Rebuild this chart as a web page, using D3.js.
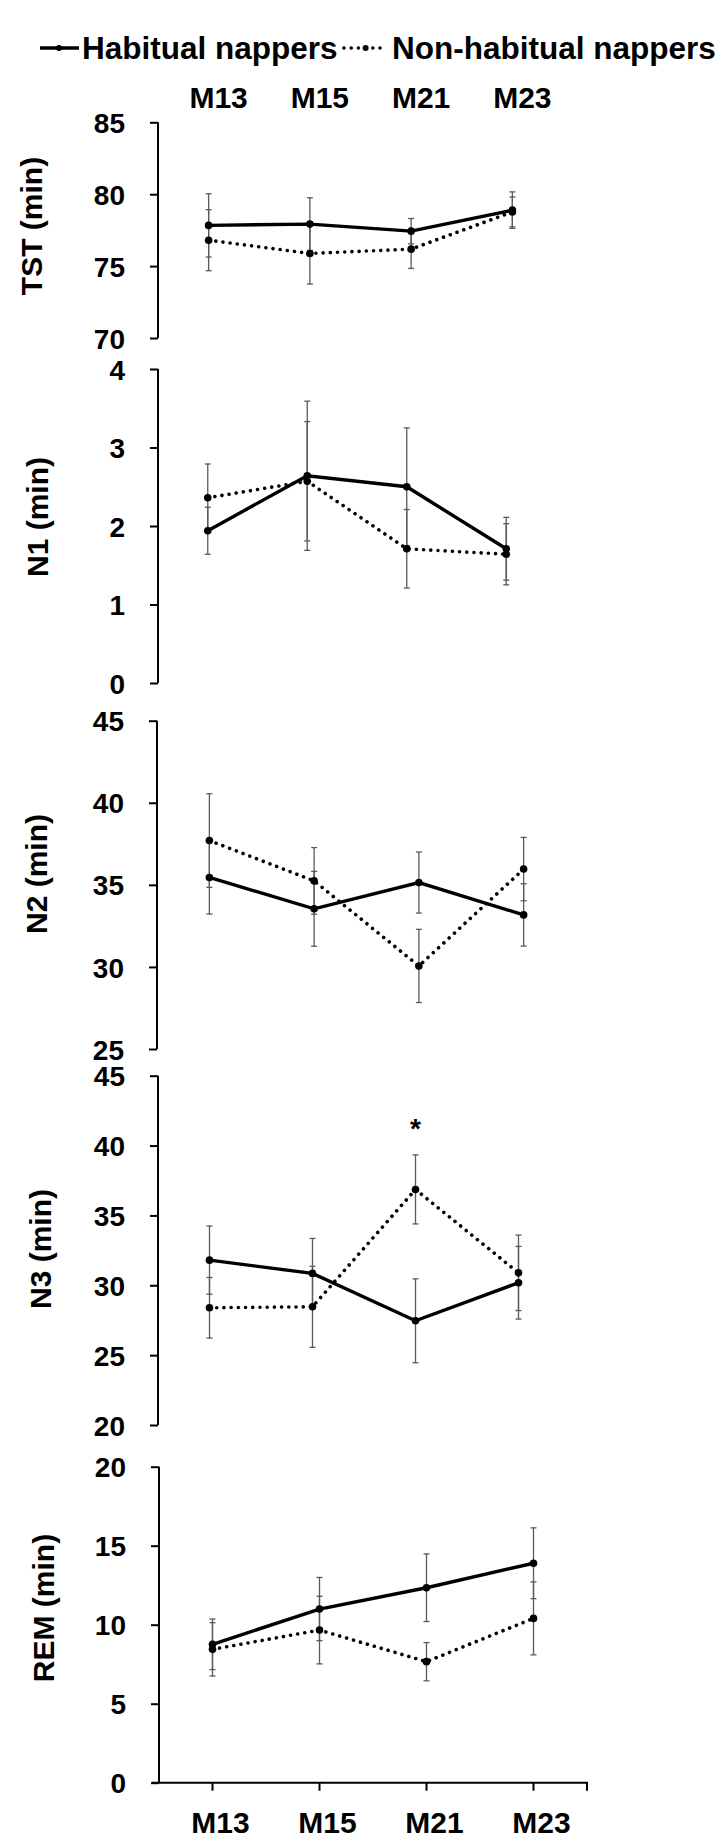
<!DOCTYPE html>
<html>
<head>
<meta charset="utf-8">
<script src="https://cdn.jsdelivr.net/npm/d3@7"></script>
<style>
  body { margin: 0; background: #fff; }
  text { font-family: "Liberation Sans", Arial, sans-serif; font-weight: bold; fill: #000; }
</style>
</head>
<body>
<svg id="chart" width="720" height="1838"></svg>
<script>
// the data (means and error bars in minutes)
const categories = ["M13", "M15", "M21", "M23"];
const seriesNames = ["Habitual nappers", "Non-habitual nappers"];

const tstHab = [77.83, 77.92, 77.43, 78.89];
const tstHabErr = [2.2, 1.83, 0.88, 1.27];
const tstNon = [76.8, 75.88, 76.18, 78.77];
const tstNonErr = [2.12, 2.13, 1.34, 1.04];

const n1Hab = [1.94, 2.64, 2.50, 1.71];
const n1HabErr = [0.30, 0.95, 0.75, 0.40];
const n1Non = [2.36, 2.57, 1.71, 1.64];
const n1NonErr = [0.43, 0.76, 0.50, 0.39];

const n2Hab = [35.45, 33.54, 35.14, 33.17];
const n2HabErr = [2.23, 2.28, 1.86, 1.90];
const n2Non = [37.70, 35.24, 30.06, 35.96];
const n2NonErr = [2.85, 2.03, 2.23, 1.93];

const n3Hab = [31.80, 30.85, 27.46, 30.18];
const n3HabErr = [2.44, 2.5, 3.0, 2.6];
const n3Non = [28.39, 28.46, 36.86, 30.89];
const n3NonErr = [2.17, 2.9, 2.47, 2.7];

const remHab = [8.76, 10.99, 12.34, 13.89];
const remHabErr = [1.6, 2.0, 2.14, 2.24];
const remNon = [8.44, 9.66, 7.66, 10.40];
const remNonErr = [1.69, 2.14, 1.21, 2.31];

// tick labels for each panel
const tstTicks = [70, 75, 80, 85];
const n1Ticks = [0, 1, 2, 3, 4];
const n2Ticks = [25, 30, 35, 40, 45];
const n3Ticks = [20, 25, 30, 35, 40, 45];
const remTicks = [0, 5, 10, 15, 20];

// significance mark (N3 at M21)
const sigMarks = [{ panel: "N3 (min)", cat: "M21", value: 41.6, label: "*" }];

// panels were pasted together so each one is a little different
const panels = [
  { title: "TST (min)", hab: tstHab, habErr: tstHabErr, non: tstNon, nonErr: tstNonErr, ticks: tstTicks,
    top: 122.3, bottom: 338, x0: 158, x1: 563, titleX: 42, titleY: 226 },
  { title: "N1 (min)", hab: n1Hab, habErr: n1HabErr, non: n1Non, nonErr: n1NonErr, ticks: n1Ticks,
    top: 369, bottom: 683, x0: 158, x1: 556, titleX: 48, titleY: 517 },
  { title: "N2 (min)", hab: n2Hab, habErr: n2HabErr, non: n2Non, nonErr: n2NonErr, ticks: n2Ticks,
    top: 720.7, bottom: 1049, x0: 157, x1: 576, titleX: 47, titleY: 874 },
  { title: "N3 (min)", hab: n3Hab, habErr: n3HabErr, non: n3Non, nonErr: n3NonErr, ticks: n3Ticks,
    top: 1075.7, bottom: 1425, x0: 158, x1: 570, titleX: 51, titleY: 1249 },
  { title: "REM (min)", hab: remHab, habErr: remHabErr, non: remNon, nonErr: remNonErr, ticks: remTicks,
    top: 1466.7, bottom: 1782.7, x0: 159, x1: 587, titleX: 54, titleY: 1608, xAxis: true }
];

const svg = d3.select("#chart");

function drawPanel(p) {
  const g = svg.append("g");

  const x = d3.scaleBand().domain(categories).range([p.x0, p.x1]);
  const y = d3.scaleLinear().domain(d3.extent(p.ticks)).range([p.bottom, p.top]);
  const cx = d => x(d) + x.bandwidth() / 2;

  // y axis, ticks outside to the left
  const yAxis = g.append("g")
    .attr("transform", "translate(" + p.x0 + ",0)")
    .call(d3.axisLeft(y).tickValues(p.ticks).tickSize(8).tickPadding(25).tickFormat(d3.format("d")));
  yAxis.select(".domain").attr("d", "M0," + p.top + "V" + p.bottom).attr("stroke-width", 2);
  yAxis.selectAll(".tick line").attr("stroke-width", 2);
  yAxis.selectAll("text").style("font-size", "28px").attr("font-family", null).attr("dy", "0.36em");

  if (p.xAxis) {
    // bottom axis with a tick at each month and one at the right end
    g.append("line")
      .attr("x1", p.x0 - 7).attr("x2", p.x1 + 1)
      .attr("y1", p.bottom).attr("y2", p.bottom)
      .attr("stroke", "#000").attr("stroke-width", 2);
    g.selectAll(".xt").data(categories).enter().append("line")
      .attr("x1", cx).attr("x2", cx)
      .attr("y1", p.bottom).attr("y2", p.bottom + 8)
      .attr("stroke", "#000").attr("stroke-width", 2);
    g.append("line")
      .attr("x1", p.x1).attr("x2", p.x1)
      .attr("y1", p.bottom).attr("y2", p.bottom + 8)
      .attr("stroke", "#000").attr("stroke-width", 2);
    g.selectAll(".xl").data(categories).enter().append("text")
      .attr("x", d => cx(d) + 8)
      .attr("y", 1833)
      .attr("text-anchor", "middle")
      .style("font-size", "30px")
      .text(d => d);
  }

  // axis title
  g.append("text")
    .attr("transform", "translate(" + p.titleX + "," + p.titleY + ") rotate(-90)")
    .attr("text-anchor", "middle")
    .style("font-size", "30px")
    .text(p.title);

  const series = [
    { vals: p.hab, err: p.habErr, dash: null },
    { vals: p.non, err: p.nonErr, dash: "0.01,7.2" }
  ];

  // error bars first so the lines sit on top
  series.forEach(s => {
    const rows = categories.map((c, i) => ({ c: c, v: s.vals[i], e: s.err[i] }));
    const eb = g.append("g").attr("stroke", "#5a5a5a").attr("stroke-width", 1.3);
    eb.selectAll(".v").data(rows).enter().append("line")
      .attr("x1", d => cx(d.c)).attr("x2", d => cx(d.c))
      .attr("y1", d => y(d.v + d.e)).attr("y2", d => y(d.v - d.e));
    eb.selectAll(".t").data(rows).enter().append("line")
      .attr("x1", d => cx(d.c) - 3).attr("x2", d => cx(d.c) + 3)
      .attr("y1", d => y(d.v + d.e)).attr("y2", d => y(d.v + d.e));
    eb.selectAll(".b").data(rows).enter().append("line")
      .attr("x1", d => cx(d.c) - 3).attr("x2", d => cx(d.c) + 3)
      .attr("y1", d => y(d.v - d.e)).attr("y2", d => y(d.v - d.e));
  });

  series.forEach(s => {
    const rows = categories.map((c, i) => ({ c: c, v: s.vals[i] }));
    const line = d3.line().x(d => cx(d.c)).y(d => y(d.v));
    g.append("path")
      .datum(rows)
      .attr("d", line)
      .attr("fill", "none")
      .attr("stroke", "#000")
      .attr("stroke-width", s.dash ? 3.6 : 3.4)
      .attr("stroke-linecap", s.dash ? "round" : "butt")
      .attr("stroke-dasharray", s.dash);
    g.selectAll(null).data(rows).enter().append("circle")
      .attr("cx", d => cx(d.c))
      .attr("cy", d => y(d.v))
      .attr("r", 3.8)
      .attr("fill", "#000");
  });

  // star for significant difference
  sigMarks.filter(m => m.panel === p.title).forEach(m => {
    g.append("text")
      .attr("x", cx(m.cat))
      .attr("y", y(m.value) + 15)
      .attr("text-anchor", "middle")
      .style("font-size", "28px")
      .text(m.label);
  });

  return x;
}

let xTop = null;
panels.forEach((p, i) => {
  const x = drawPanel(p);
  if (i === 0) xTop = x;
});

// month labels above the first panel
svg.selectAll(".topLabel").data(categories).enter().append("text")
  .attr("x", d => xTop(d) + xTop.bandwidth() / 2 + 10)
  .attr("y", 108)
  .attr("text-anchor", "middle")
  .style("font-size", "30px")
  .text(d => d);

// legend at the top
const legend = svg.append("g");
legend.append("line")
  .attr("x1", 40).attr("x2", 79).attr("y1", 48).attr("y2", 48)
  .attr("stroke", "#000").attr("stroke-width", 3.4);
legend.append("circle").attr("cx", 59).attr("cy", 48).attr("r", 3).attr("fill", "#000");
legend.append("text").attr("x", 82).attr("y", 59.3).style("font-size", "31.5px").text(seriesNames[0]);

legend.append("line")
  .attr("x1", 344).attr("x2", 387).attr("y1", 48).attr("y2", 48)
  .attr("stroke", "#000").attr("stroke-width", 3.6)
  .attr("stroke-linecap", "round").attr("stroke-dasharray", "0.01,7.2");
legend.append("circle").attr("cx", 365.6).attr("cy", 48).attr("r", 3).attr("fill", "#000");
legend.append("text").attr("x", 392).attr("y", 59.3).style("font-size", "31.5px").text(seriesNames[1]);
</script>
</body>
</html>
